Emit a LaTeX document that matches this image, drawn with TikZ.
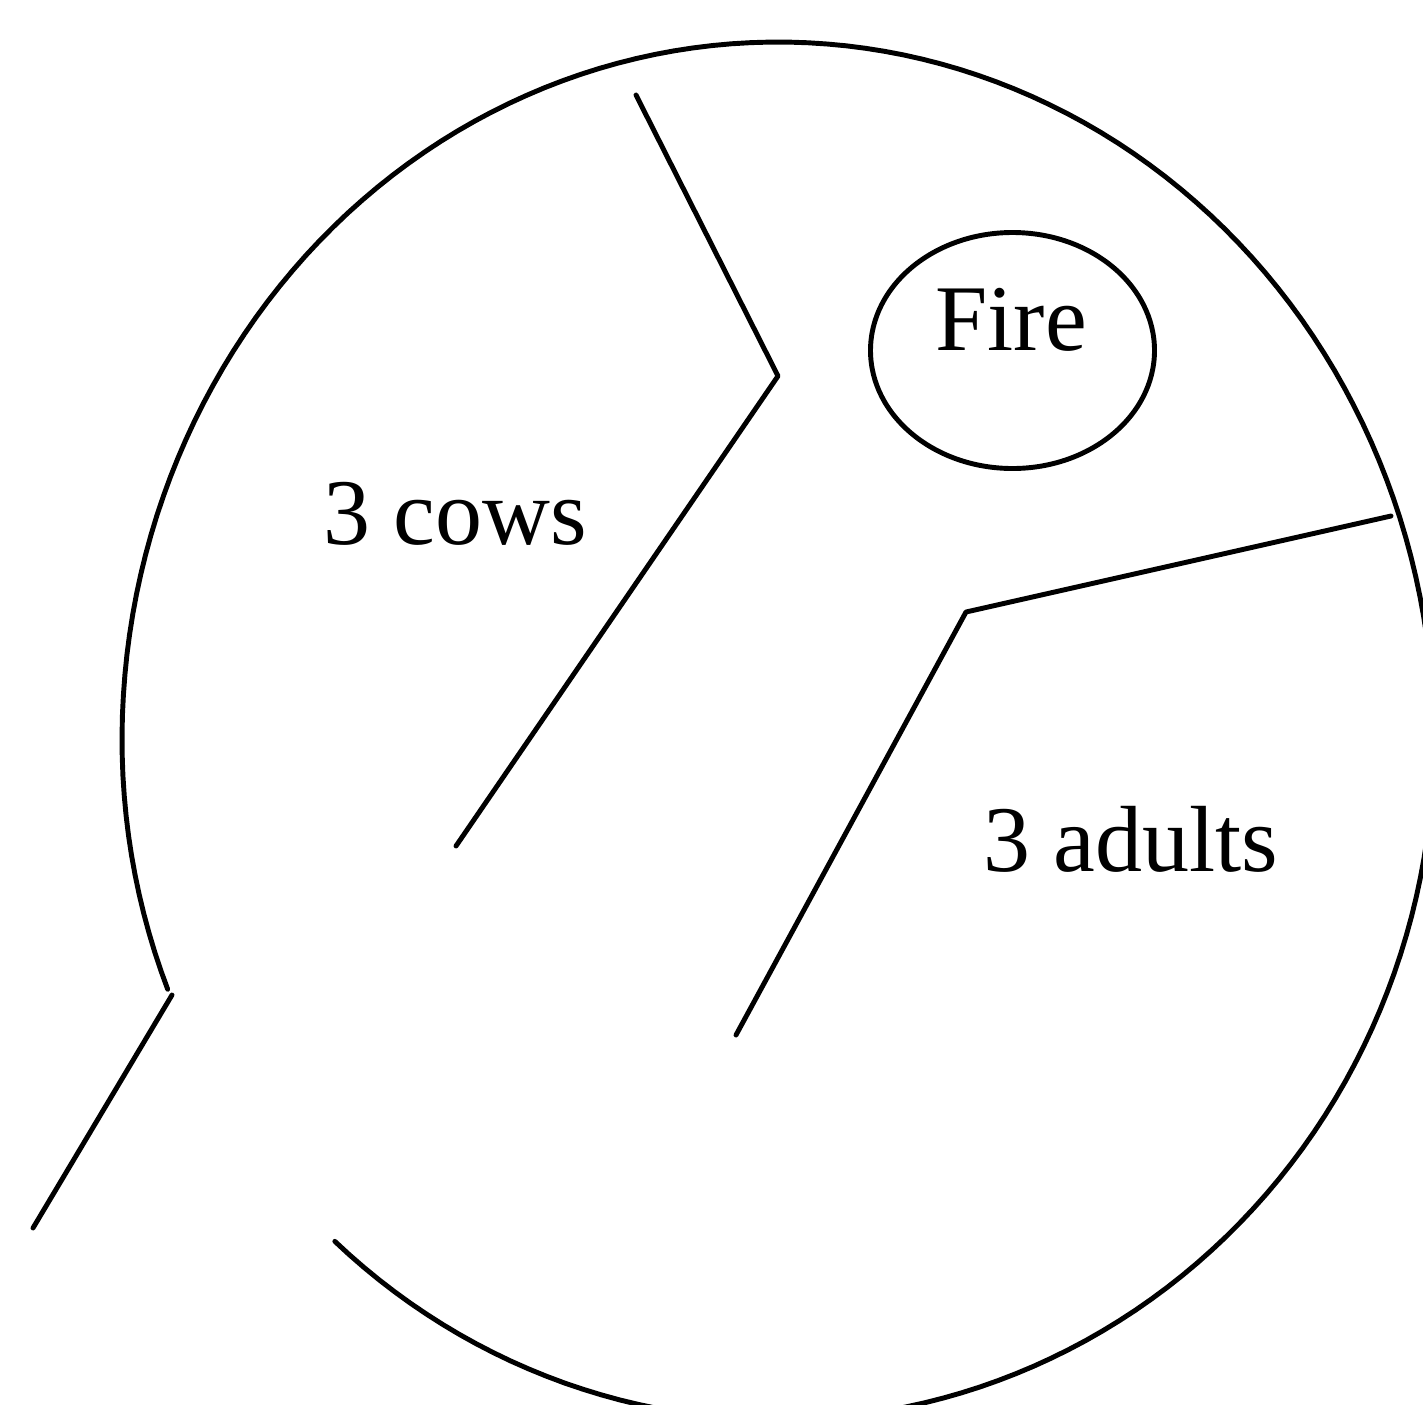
\documentclass[tikz,border=0pt]{standalone}
\usepackage{fontspec}
\setmainfont{Liberation Serif}
\tikzset{ink/.style={line width=2.8pt,black,line join=round,line cap=round},
 lbl/.style={font=\fontsize{53.5}{56}\selectfont,inner sep=0pt,anchor=base west}}
\begin{document}
\begin{tikzpicture}[x=0.02cm,y=-0.02cm]
\useasboundingbox (0,0) rectangle (1423,1404);
\clip (0,0) rectangle (1423,1404);
\draw[ink] plot[domain=158.5:492.5,samples=200,variable=\t] ({778+656*cos(\t)},{740+(sin(\t)>0?680:698)*sin(\t)});
\coordinate (a1) at (172,995); \coordinate (a2) at (33,1228);
\coordinate (b1) at (636,95); \coordinate (b2) at (778,376); \coordinate (b3) at (456,846);
\coordinate (c1) at (1391,516); \coordinate (c2) at (966,612); \coordinate (c3) at (736,1035);
\draw[ink] (a1) -- (a2);
\draw[ink] (b1) -- (b2) -- (b3);
\draw[ink] (c1) -- (c2) -- (c3);
\draw[ink] (1012.5,350.5) ellipse [x radius=142,y radius=118];
\node[lbl] (fire) at (935,350) {Fire};
\node[lbl] (cows) at (323,544) {3 cows};
\node[lbl] (adults) at (983,871) {3 adults};
\end{tikzpicture}
\end{document}
